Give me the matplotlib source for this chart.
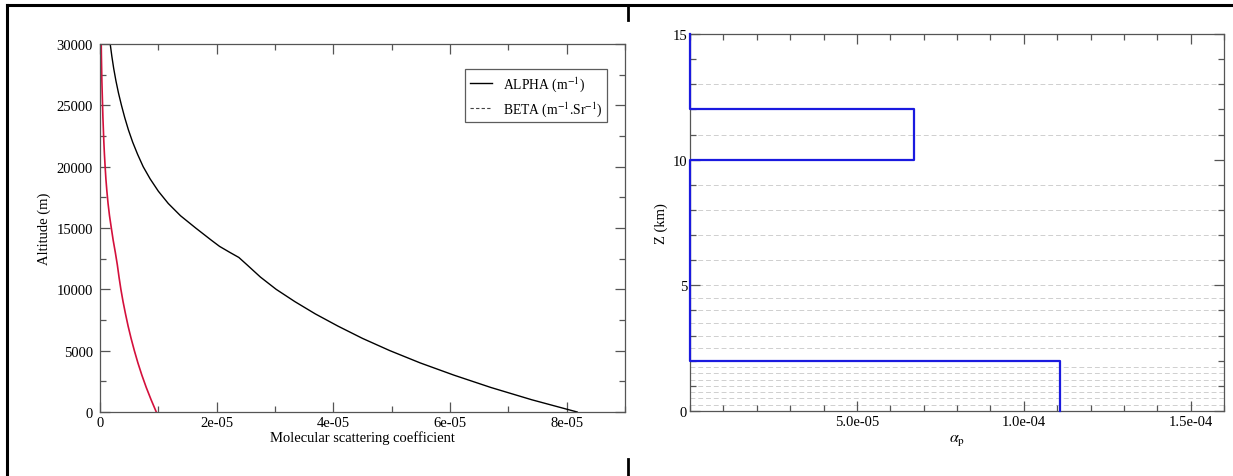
import matplotlib
matplotlib.use("Agg")
import matplotlib.pyplot as plt
from matplotlib.lines import Line2D
from matplotlib.ticker import MultipleLocator, FixedLocator, FixedFormatter

plt.rcParams['font.family'] = ['Liberation Serif', 'DejaVu Serif']
plt.rcParams['mathtext.fontset'] = 'stix'

# ---- Left panel data ----
alt_alpha = [0, 1000, 2000, 3000, 4000, 5000, 6000, 7000, 8000, 9000, 10000, 11000,
             12000, 12600, 13000, 13500, 14000, 15000, 16000, 17000, 18000, 19000,
             20000, 21000, 22000, 23000, 24000, 25000, 26000, 27000, 28000, 29000, 30000]
alpha_vals = [8.18e-5, 7.40e-5, 6.70e-5, 6.07e-5, 5.49e-5, 4.97e-5, 4.50e-5, 4.08e-5,
              3.69e-5, 3.34e-5, 3.02e-5, 2.75e-5, 2.52e-5, 2.38e-5, 2.23e-5, 2.05e-5,
              1.91e-5, 1.64e-5, 1.38e-5, 1.17e-5, 1.00e-5, 0.86e-5, 0.74e-5, 0.645e-5,
              0.56e-5, 0.487e-5, 0.424e-5, 0.368e-5, 0.317e-5, 0.273e-5, 0.235e-5,
              0.203e-5, 0.175e-5]
alt_beta = [0, 1000, 2000, 3000, 4000, 5000, 6000, 7000, 8000, 9000, 10000, 11000,
            12000, 13000, 14000, 15000, 16000, 17000, 18000, 19000, 20000, 21000,
            22000, 23000, 24000, 25000, 26000, 27000, 28000, 29000, 30000]
beta_vals = [0.965e-5, 0.876e-5, 0.793e-5, 0.718e-5, 0.650e-5, 0.589e-5, 0.533e-5,
             0.482e-5, 0.437e-5, 0.395e-5, 0.358e-5, 0.326e-5, 0.297e-5, 0.263e-5,
             0.226e-5, 0.194e-5, 0.163e-5, 0.138e-5, 0.118e-5, 0.101e-5, 0.088e-5,
             0.076e-5, 0.066e-5, 0.058e-5, 0.050e-5, 0.044e-5, 0.038e-5, 0.032e-5,
             0.028e-5, 0.024e-5, 0.021e-5]
left_xticks = [0, 2e-5, 4e-5, 6e-5, 8e-5]
left_xticklabels = ["0", "2e-05", "4e-05", "6e-05", "8e-05"]

# ---- Right panel data ----
layer_bottom = [0, 2, 10, 12]
layer_top = [2, 10, 12, 15]
layer_alpha = [1.11e-4, 0.0, 6.7e-5, 0.0]
grid_levels = [0.25, 0.5, 0.75, 1.0, 1.25, 1.5, 1.75, 2.5, 3.0, 3.5, 4.0, 4.5,
               5.0, 6.0, 7.0, 8.0, 9.0, 11.0, 13.0]
right_xticks = [5e-5, 1e-4, 1.5e-4]
right_xticklabels = ["5.0e-05", "1.0e-04", "1.5e-04"]

W, H = 1233, 477
fig = plt.figure(figsize=(W / 100, H / 100), dpi=100)

spine_col = '#555555'
fs = 10.5

def style_axes(ax):
    for s in ax.spines.values():
        s.set_color(spine_col)
        s.set_linewidth(0.9)
    ax.tick_params(which='both', direction='in', top=True, right=True,
                   color=spine_col, labelsize=fs, width=0.9)
    ax.tick_params(which='major', length=7, pad=3)
    ax.tick_params(which='minor', length=4.5)

# Left axes
ax1 = fig.add_axes([100 / W, 1 - 413 / H, (625 - 100) / W, (413 - 45) / H])
ax1.plot(alpha_vals, alt_alpha, color='black', lw=1.0)
ax1.plot(beta_vals, alt_beta, color='#d4103c', lw=1.2)
ax1.set_xlim(0, 9e-5)
ax1.set_ylim(0, 30000)
ax1.xaxis.set_major_locator(FixedLocator(left_xticks))
ax1.xaxis.set_major_formatter(FixedFormatter(left_xticklabels))
ax1.xaxis.set_minor_locator(MultipleLocator(1e-5))
ax1.yaxis.set_major_locator(MultipleLocator(5000))
ax1.yaxis.set_minor_locator(MultipleLocator(2500))
ax1.set_xlabel("Molecular scattering coefficient", fontsize=fs, labelpad=1)
ax1.set_ylabel("Altitude (m)", fontsize=fs, labelpad=4)
style_axes(ax1)
ax1.tick_params(axis='y', pad=5)
handles = [Line2D([], [], color='black', lw=1.0),
           Line2D([], [], color='#444444', lw=0.8, ls=(0, (3, 2)))]
leg = ax1.legend(handles, ["ALPHA (m$^{-1}$)", "BETA (m$^{-1}$.Sr$^{-1}$)"],
                 loc='upper right', bbox_to_anchor=(0.966, 0.932), fontsize=9.8,
                 frameon=True, fancybox=False, handlelength=1.6, borderpad=0.35,
                 labelspacing=0.45, handletextpad=0.8, borderaxespad=0)
leg.get_frame().set_edgecolor('#333333')
leg.get_frame().set_linewidth(0.9)

# Right axes
ax2 = fig.add_axes([690 / W, 1 - 412 / H, (1224 - 690) / W, (412 - 35) / H])
for g in grid_levels:
    ax2.axhline(g, color='#cfcfcf', lw=0.7, ls=(0, (5, 3)), zorder=1)
xs, ys = [], []
for zb, zt, a in zip(layer_bottom, layer_top, layer_alpha):
    xs += [a, a]
    ys += [zb, zt]
ax2.plot(xs, ys, color='#1a1adf', lw=1.6, zorder=3, clip_on=False)
ax2.set_xlim(0, 1.6e-4)
ax2.set_ylim(0, 15)
ax2.xaxis.set_major_locator(FixedLocator(right_xticks))
ax2.xaxis.set_major_formatter(FixedFormatter(right_xticklabels))
ax2.xaxis.set_minor_locator(MultipleLocator(1e-5))
ax2.yaxis.set_major_locator(MultipleLocator(5))
ax2.yaxis.set_minor_locator(MultipleLocator(1))
ax2.set_xlabel(r"$\alpha_{\rm p}$", fontsize=fs + 1, labelpad=2)
ax2.set_ylabel("Z (km)", fontsize=fs, labelpad=3)
style_axes(ax2)
ax2.tick_params(axis='y', pad=2)

# Table-like border lines
lc = 'black'
fig.add_artist(Line2D([7 / W, 1], [1 - 6 / H, 1 - 6 / H], color=lc, lw=2.2))
fig.add_artist(Line2D([7 / W, 7 / W], [0, 1 - 6 / H], color=lc, lw=2.2))
fig.add_artist(Line2D([628 / W, 628 / W], [1 - 21 / H, 1 - 6 / H], color=lc, lw=2.0))
fig.add_artist(Line2D([628 / W, 628 / W], [0, 1 - 460 / H], color=lc, lw=2.0))

fig.savefig("out.png", dpi=100)
